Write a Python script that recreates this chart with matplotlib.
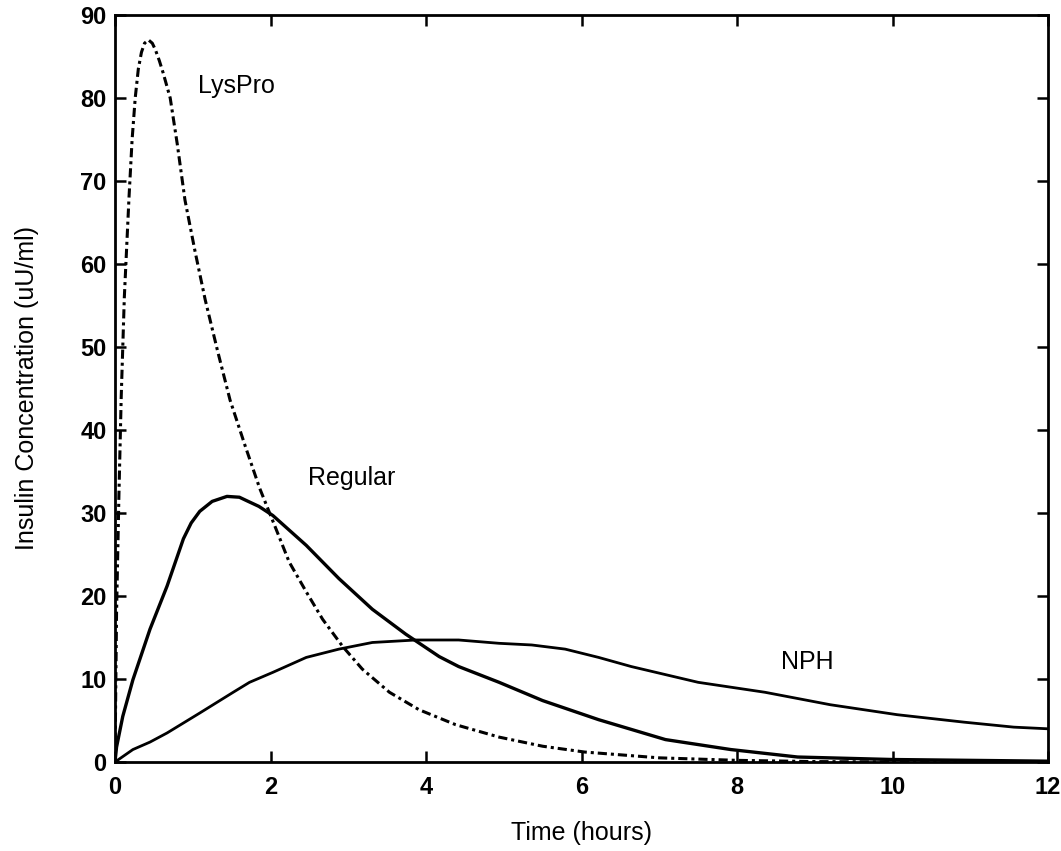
import numpy as np
import matplotlib
matplotlib.use("Agg")
import matplotlib.pyplot as plt

# values
# -----------------------------------------------------------------------------
lyspro_t = [0, 0.02, 0.05, 0.08, 0.12, 0.18, 0.22, 0.26, 0.3, 0.34, 0.38,
            0.43, 0.48, 0.52, 0.57, 0.62, 0.71, 0.8, 0.9, 1.03, 1.16, 1.32,
            1.48, 1.67, 1.86, 2.07, 2.24, 2.46, 2.67, 2.93, 3.18, 3.53, 3.91,
            4.38, 4.94, 5.5, 6.04, 7.0, 8.0, 9.0, 10.0, 12.0]
lyspro_v = [0, 18, 32, 44, 56, 68, 75, 80, 83.5, 85.5, 86.6,
            87, 86.6, 85.8, 84.5, 83, 80, 74.5, 67.7, 61.5, 55.7, 49.5,
            43.6, 38.2, 33, 28.1, 24.1, 20.5, 17.2, 13.9, 11.2, 8.4, 6.3,
            4.5, 3.0, 1.9, 1.2, 0.5, 0.2, 0.05, 0, 0]

regular_t = [0, 0.02, 0.1, 0.23, 0.45, 0.67, 0.88, 0.98, 1.09, 1.25, 1.44,
             1.6, 1.69, 1.85, 2.03, 2.46, 2.88, 3.31, 3.74, 4.17, 4.42, 4.94,
             5.5, 6.22, 7.08, 7.92, 8.78, 10.0, 12.0]
regular_v = [0, 1.8, 5.5, 9.9, 16, 21.2, 26.9, 28.8, 30.2, 31.4, 32,
             31.9, 31.5, 30.8, 29.7, 26.1, 22.1, 18.4, 15.4, 12.7, 11.5, 9.6,
             7.4, 5.1, 2.7, 1.5, 0.6, 0.3, 0.1]

nph_t = [0, 0.23, 0.45, 0.67, 1.09, 1.52, 1.73, 2.03, 2.46, 2.88, 3.31, 3.87,
         4.42, 4.94, 5.36, 5.79, 6.22, 6.64, 7.5, 8.36, 9.2, 10.06, 10.92,
         11.56, 12.0]
nph_v = [0, 1.5, 2.4, 3.5, 5.9, 8.4, 9.6, 10.8, 12.6, 13.6, 14.4, 14.7,
         14.7, 14.3, 14.1, 13.6, 12.6, 11.5, 9.6, 8.4, 6.9, 5.7, 4.8,
         4.2, 4.0]

x_ticks = [0, 2, 4, 6, 8, 10, 12]
y_ticks = [0, 10, 20, 30, 40, 50, 60, 70, 80, 90]

# curve labels (text, time, concentration)
curve_labels = [("LysPro", 1.56, 81.5), ("Regular", 3.04, 34.2), ("NPH", 8.9, 12.1)]

plt.rcParams['font.family'] = ['Liberation Sans', 'DejaVu Sans']

# figure
# -----------------------------------------------------------------------------
fig = plt.figure(figsize=(10.61, 8.51), dpi=100)
ax = fig.add_axes([115 / 1061, 1 - 762 / 851, 933 / 1061, 747 / 851])

ax.plot(lyspro_t, lyspro_v, color='black', lw=2.2,
        linestyle=(0, (3, 1.3, 1, 1.3)))
ax.plot(regular_t, regular_v, color='black', lw=2.4)
ax.plot(nph_t, nph_v, color='black', lw=2.0)

for txt, t, v in curve_labels:
    ax.text(t, v, txt, ha='center', va='center', fontsize=18)

ax.set_xlim(0, 12)
ax.set_ylim(0, 90)
ax.set_xticks(x_ticks)
ax.set_yticks(y_ticks)
ax.tick_params(direction='in', length=8, width=1.8, top=True, right=True,
               labelsize=17, pad=6)
ax.tick_params(axis='x', pad=10)
for lab in ax.get_xticklabels() + ax.get_yticklabels():
    lab.set_fontweight('bold')
for sp in ax.spines.values():
    sp.set_linewidth(2)

ax.set_xlabel("Time (hours)", fontsize=18, labelpad=16)
ax.set_ylabel("Insulin Concentration (uU/ml)", fontsize=18, labelpad=30)

fig.savefig("out.png", dpi=100)
